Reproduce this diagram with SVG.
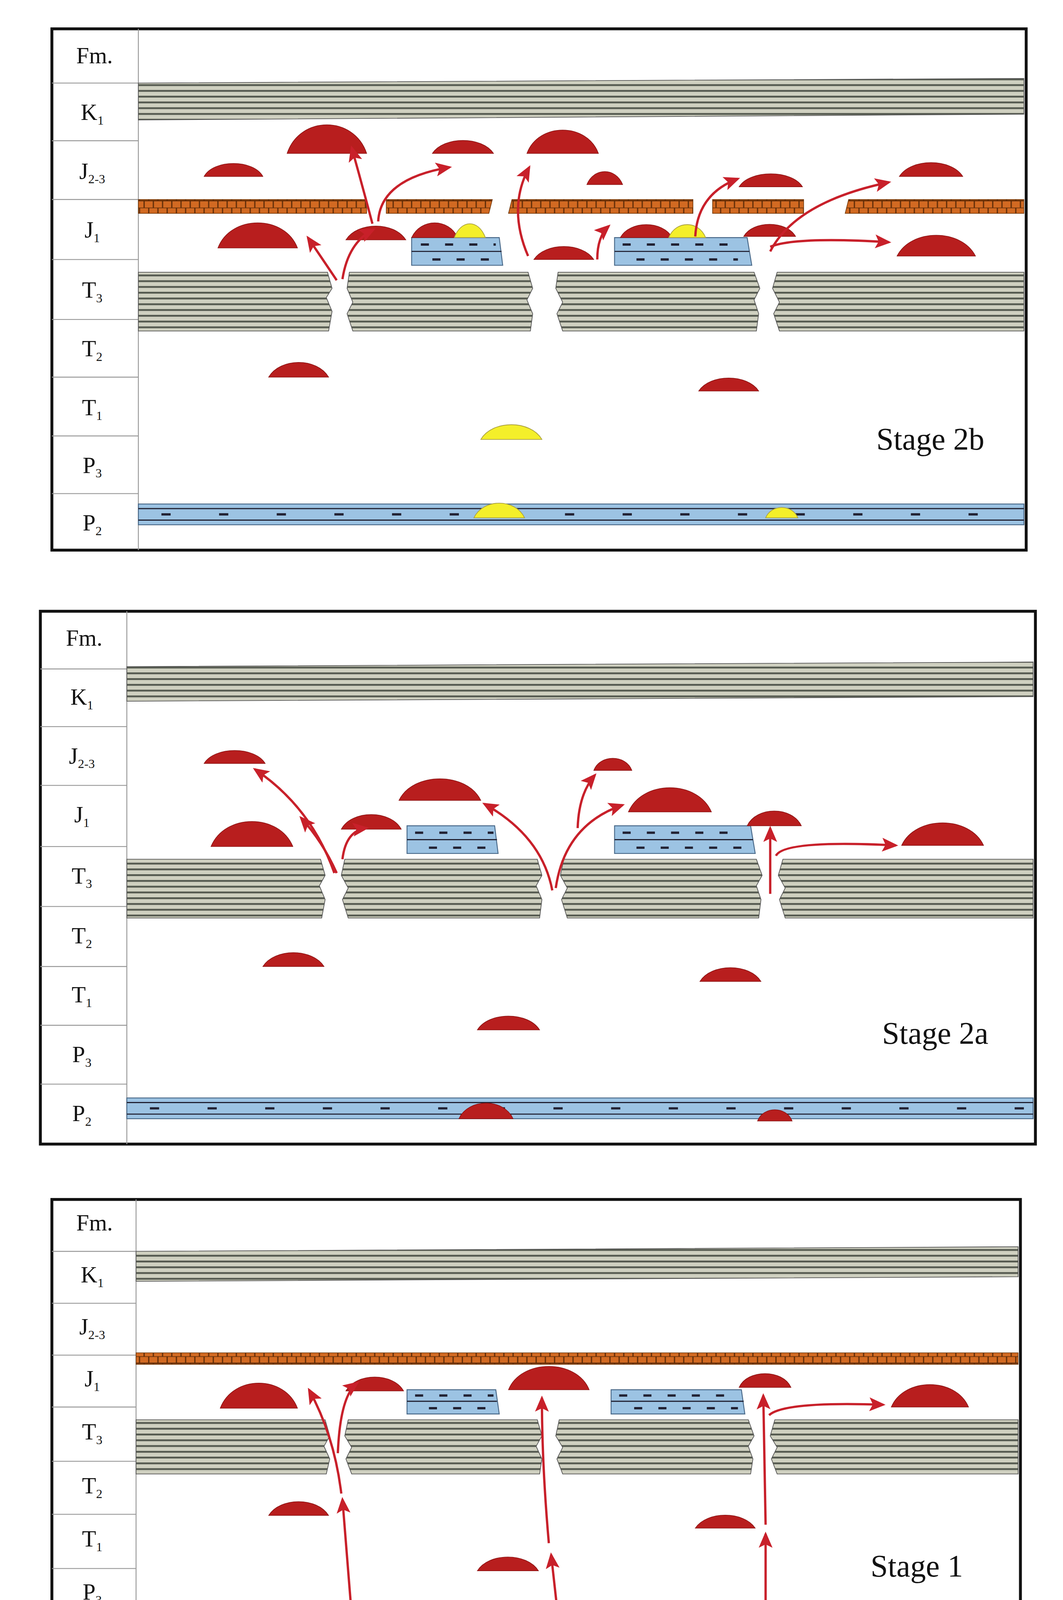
<svg xmlns="http://www.w3.org/2000/svg" width="2722" height="4631" viewBox="0 0 2722 4631">
<style>
.box{fill:#fff;stroke:#111;stroke-width:2.5}
.grid{stroke:#999;stroke-width:0.8;fill:none}
.lbl{font-family:"Liberation Serif",serif;font-size:20px;fill:#111;text-anchor:middle}
.sub{font-size:11px}
.stage{font-family:"Liberation Serif",serif;font-size:27px;fill:#111}
.leg{font-family:"Liberation Serif",serif;font-size:17px;fill:#111}
.seal{fill:url(#sealP);stroke:#555;stroke-width:0.6}
.tos{fill:url(#tosP);stroke:#6a3000;stroke-width:0.5}
.src{fill:#9cc3e3;stroke:#4a6a8a;stroke-width:0.8}
.srcline{stroke:#223;stroke-width:1}
.dash{stroke:#223;stroke-width:2;stroke-dasharray:8 42}
.dash2{stroke:#223;stroke-width:2;stroke-dasharray:7 14}
.oil{fill:#b81e1e;stroke:#8a1010;stroke-width:0.5}
.gas{fill:#f4ef2a;stroke:#aaa040;stroke-width:0.6}
.mig{fill:none;stroke:#c8202a;stroke-width:2;marker-end:url(#ah)}
</style>
<defs>
<pattern id="sealP" patternUnits="userSpaceOnUse" width="20" height="5">
<rect width="20" height="5" fill="#cfd0c0"/><rect y="3" width="20" height="1.6" fill="#555a50"/>
</pattern>
<pattern id="tosP" patternUnits="userSpaceOnUse" width="8" height="12">
<rect width="8" height="12" fill="#d26a22"/>
<path d="M0,0H8M0,6H8M1,0V6M5,6V12" stroke="#5a2a08" stroke-width="1"/>
</pattern>
<marker id="ah" markerUnits="userSpaceOnUse" markerWidth="14" markerHeight="12" refX="12" refY="6" orient="auto">
<path d="M0,0 L14,6 L0,12 L3,6 Z" fill="#c8202a"/>
</marker>
</defs>
<g transform="scale(2.9525)">

<!-- PANEL 1: Stage 2b -->
<g id="panel-stage2b">
<rect class="box" x="45" y="25" width="845" height="452"/>
<path class="grid" d="M120,25V477M45,72H120M45,122H120M45,173H120M45,225H120M45,277H120M45,327H120M45,378H120M45,428H120"/>
<text class="lbl" x="82" y="55">Fm.</text>
<text class="lbl" x="80" y="104">K<tspan class="sub" dy="4">1</tspan></text>
<text class="lbl" x="80" y="155">J<tspan class="sub" dy="4">2-3</tspan></text>
<text class="lbl" x="80" y="206">J<tspan class="sub" dy="4">1</tspan></text>
<text class="lbl" x="80" y="258">T<tspan class="sub" dy="4">3</tspan></text>
<text class="lbl" x="80" y="309">T<tspan class="sub" dy="4">2</tspan></text>
<text class="lbl" x="80" y="360">T<tspan class="sub" dy="4">1</tspan></text>
<text class="lbl" x="80" y="410">P<tspan class="sub" dy="4">3</tspan></text>
<text class="lbl" x="80" y="460">P<tspan class="sub" dy="4">2</tspan></text>
<path class="seal" d="M120,72 L888,68 L888,99 L120,104 Z"/>
<path class="tos" d="M120,173H318V185H120Z M335,173H427L424,185H335Z M444,173H601V185H441Z M618,173H697V185H618Z M736,173H888V185H733Z"/>
<path class="seal" d="M120,236 L284,236 L288,250 L283,258 L288,270 L285,287 L120,287 Z"/>
<path class="seal" d="M303,236 L458,236 L462,250 L457,260 L462,272 L460,287 L306,287 L301,272 L306,262 L301,250 Z"/>
<path class="seal" d="M484,236 L654,236 L659,250 L654,260 L658,272 L656,287 L488,287 L483,272 L488,262 L482,250 Z"/>
<path class="seal" d="M674,236 L888,236 L888,287 L676,287 L671,272 L676,262 L670,250 Z"/>
<path class="src" d="M357,206H433L436,230H357Z"/><path class="srcline" d="M357,218H435"/>
<path class="dash2" d="M365,212H430M375,225H430"/>
<path class="src" d="M533,206H648L652,230H533Z"/><path class="srcline" d="M533,218H650"/>
<path class="dash2" d="M540,212H640M552,225H640"/>
<rect class="src" x="120" y="437" width="768" height="18"/><path class="srcline" d="M120,441H888M120,451H888"/>
<path class="dash" d="M140,446H888"/>
<path class="oil" d="M177,153C185,138 220,138 228,153Z"/>
<path class="oil" d="M249,133C260,100 307,100 318,133Z"/>
<path class="oil" d="M375,133C385,118 418,118 428,133Z"/>
<path class="oil" d="M457,133C467,106 509,106 519,133Z"/>
<path class="oil" d="M509,160C515,145 534,145 540,160Z"/>
<path class="oil" d="M641,162C650,147 687,147 696,162Z"/>
<path class="oil" d="M780,153C790,137 825,137 835,153Z"/>
<path class="oil" d="M189,215C200,186 247,186 258,215Z"/>
<path class="oil" d="M300,208C310,192 342,192 352,208Z"/>
<path class="oil" d="M357,206C365,189 389,189 397,206Z"/>
<path class="gas" d="M394,206C400,190 415,190 421,206Z"/>
<path class="oil" d="M463,225C473,210 505,210 515,225Z"/>
<path class="oil" d="M538,206C546,191 575,191 583,206Z"/>
<path class="gas" d="M580,206C586,191 606,191 612,206Z"/>
<path class="oil" d="M645,205C653,191 682,191 690,205Z"/>
<path class="oil" d="M778,222C790,198 834,198 846,222Z"/>
<path class="oil" d="M233,327C243,310 275,310 285,327Z"/>
<path class="oil" d="M606,339C616,324 648,324 658,339Z"/>
<path class="gas" d="M417,381C427,364 460,364 470,381Z"/>
<path class="gas" d="M411,449C419,432 447,432 455,449Z"/>
<path class="gas" d="M664,449C669,437 687,437 692,449Z"/>
<text class="stage" x="760" y="390">Stage 2b</text>
</g>
<g id="arrows-stage2b">
<path class="mig" d="M292,243 Q280,225 267,206"/>
<path class="mig" d="M297,242 Q302,210 324,199"/>
<path class="mig" d="M323,194 Q314,160 305,128"/>
<path class="mig" d="M328,192 Q330,155 390,145"/>
<path class="mig" d="M458,222 Q440,180 459,145"/>
<path class="mig" d="M518,225 Q518,205 528,196"/>
<path class="mig" d="M603,205 Q605,168 640,155"/>
<path class="mig" d="M668,218 Q690,175 771,158"/>
<path class="mig" d="M668,214 Q690,205 771,210"/>
</g>

<!-- PANEL 2: Stage 2a -->
<g id="panel-stage2a">
<rect class="box" x="35" y="530" width="863" height="462"/>
<path class="grid" d="M110,530V992M35,580H110M35,630H110M35,681H110M35,734H110M35,786H110M35,838H110M35,889H110M35,940H110"/>
<text class="lbl" x="73" y="560">Fm.</text>
<text class="lbl" x="71" y="611">K<tspan class="sub" dy="4">1</tspan></text>
<text class="lbl" x="71" y="662">J<tspan class="sub" dy="4">2-3</tspan></text>
<text class="lbl" x="71" y="713">J<tspan class="sub" dy="4">1</tspan></text>
<text class="lbl" x="71" y="766">T<tspan class="sub" dy="4">3</tspan></text>
<text class="lbl" x="71" y="818">T<tspan class="sub" dy="4">2</tspan></text>
<text class="lbl" x="71" y="869">T<tspan class="sub" dy="4">1</tspan></text>
<text class="lbl" x="71" y="921">P<tspan class="sub" dy="4">3</tspan></text>
<text class="lbl" x="71" y="972">P<tspan class="sub" dy="4">2</tspan></text>
<path class="seal" d="M110,578 L896,574 L896,604 L110,608 Z"/>
<path class="seal" d="M110,745 L278,745 L282,759 L277,768 L282,780 L279,796 L110,796 Z"/>
<path class="seal" d="M299,745 L466,745 L470,759 L465,768 L470,780 L468,796 L302,796 L297,780 L302,770 L296,759 Z"/>
<path class="seal" d="M489,745 L656,745 L661,759 L656,768 L660,780 L658,796 L492,796 L487,780 L492,770 L486,759 Z"/>
<path class="seal" d="M679,745 L896,745 L896,796 L681,796 L676,780 L681,770 L675,759 Z"/>
<path class="src" d="M353,716H429L432,740H353Z"/><path class="srcline" d="M353,728H431"/>
<path class="dash2" d="M360,722H428M372,735H428"/>
<path class="src" d="M533,716H651L655,740H533Z"/><path class="srcline" d="M533,728H653"/>
<path class="dash2" d="M540,722H645M552,735H645"/>
<rect class="src" x="110" y="952" width="786" height="18"/><path class="srcline" d="M110,956H896M110,966H896"/>
<path class="dash" d="M130,961H896"/>
<path class="oil" d="M177,662C186,647 221,647 230,662Z"/>
<path class="oil" d="M515,668C520,654 543,654 548,668Z"/>
<path class="oil" d="M346,694C358,669 405,669 417,694Z"/>
<path class="oil" d="M545,704C557,676 605,676 617,704Z"/>
<path class="oil" d="M183,734C195,705 242,705 254,734Z"/>
<path class="oil" d="M296,719C305,702 339,702 348,719Z"/>
<path class="oil" d="M648,716C656,699 687,699 695,716Z"/>
<path class="oil" d="M782,733C794,707 841,707 853,733Z"/>
<path class="oil" d="M228,838C238,822 271,822 281,838Z"/>
<path class="oil" d="M607,851C617,835 650,835 660,851Z"/>
<path class="oil" d="M414,893C424,877 458,877 468,893Z"/>
<path class="oil" d="M398,970C406,952 437,952 445,970Z"/>
<path class="oil" d="M657,972C662,959 682,959 687,972Z"/>
<text class="stage" x="765" y="905">Stage 2a</text>
</g>
<g id="arrows-stage2a">
<path class="mig" d="M292,757 Q280,730 261,709"/>
<path class="mig" d="M290,757 Q270,700 221,667"/>
<path class="mig" d="M297,745 Q300,720 318,718"/>
<path class="mig" d="M479,772 Q470,725 420,697"/>
<path class="mig" d="M482,770 Q490,715 540,698"/>
<path class="mig" d="M501,718 Q502,688 516,672"/>
<path class="mig" d="M668,775 L668,718"/>
<path class="mig" d="M673,742 Q680,728 777,733"/>
</g>

<!-- PANEL 3: Stage 1 -->
<g id="panel-stage1">
<rect class="box" x="45" y="1040" width="840" height="410"/>
<path class="grid" d="M118,1040V1450M45,1085H118M45,1130H118M45,1175H118M45,1220H118M45,1267H118M45,1313H118M45,1360H118M45,1405H118"/>
<text class="lbl" x="82" y="1067">Fm.</text>
<text class="lbl" x="80" y="1112">K<tspan class="sub" dy="4">1</tspan></text>
<text class="lbl" x="80" y="1157">J<tspan class="sub" dy="4">2-3</tspan></text>
<text class="lbl" x="80" y="1202">J<tspan class="sub" dy="4">1</tspan></text>
<text class="lbl" x="80" y="1248">T<tspan class="sub" dy="4">3</tspan></text>
<text class="lbl" x="80" y="1295">T<tspan class="sub" dy="4">2</tspan></text>
<text class="lbl" x="80" y="1341">T<tspan class="sub" dy="4">1</tspan></text>
<text class="lbl" x="80" y="1387">P<tspan class="sub" dy="4">3</tspan></text>
<text class="lbl" x="80" y="1432">P<tspan class="sub" dy="4">2</tspan></text>
<path class="seal" d="M118,1085 L883,1081 L883,1107 L118,1111 Z"/>
<path class="tos" d="M118,1173H883V1183H118Z"/>
<path class="seal" d="M118,1231 L282,1231 L286,1245 L281,1254 L286,1265 L283,1278 L118,1278 Z"/>
<path class="seal" d="M302,1231 L466,1231 L470,1245 L465,1254 L470,1265 L468,1278 L305,1278 L300,1265 L305,1255 L299,1245 Z"/>
<path class="seal" d="M485,1231 L649,1231 L654,1245 L649,1254 L653,1265 L651,1278 L488,1278 L483,1265 L488,1255 L482,1245 Z"/>
<path class="seal" d="M672,1231 L883,1231 L883,1278 L674,1278 L669,1265 L674,1255 L668,1245 Z"/>
<path class="src" d="M353,1205H430L433,1226H353Z"/><path class="srcline" d="M353,1215H431"/>
<path class="dash2" d="M360,1210H428M372,1221H428"/>
<path class="src" d="M530,1205H643L646,1226H530Z"/><path class="srcline" d="M530,1215H645"/>
<path class="dash2" d="M537,1210H640M550,1221H640"/>
<rect class="src" x="118" y="1415" width="765" height="17"/><path class="srcline" d="M118,1419H883M118,1428H883"/>
<path class="dash" d="M135,1423.5H883"/>
<path class="oil" d="M191,1221C202,1192 247,1192 258,1221Z"/>
<path class="oil" d="M300,1206C309,1190 341,1190 350,1206Z"/>
<path class="oil" d="M441,1205C452,1178 500,1178 511,1205Z"/>
<path class="oil" d="M641,1203C648,1187 679,1187 686,1203Z"/>
<path class="oil" d="M773,1220C784,1194 829,1194 840,1220Z"/>
<path class="oil" d="M233,1314C243,1298 275,1298 285,1314Z"/>
<path class="oil" d="M603,1325C613,1310 645,1310 655,1325Z"/>
<path class="oil" d="M414,1362C424,1346 457,1346 467,1362Z"/>
<path class="oil" d="M398,1432C410,1408 455,1408 467,1432Z"/>
<path class="oil" d="M633,1432C645,1408 688,1408 700,1432Z"/>
<text class="stage" x="755" y="1367">Stage 1</text>
</g>
<g id="arrows-stage1">
<path class="mig" d="M305,1400 L297,1300"/>
<path class="mig" d="M296,1295 Q290,1245 268,1205"/>
<path class="mig" d="M293,1260 Q295,1210 310,1199"/>
<path class="mig" d="M484,1402 L478,1348"/>
<path class="mig" d="M476,1338 Q470,1270 470,1212"/>
<path class="mig" d="M664,1402 L664,1330"/>
<path class="mig" d="M664,1322 L662,1210"/>
<path class="mig" d="M667,1227 Q680,1215 766,1218"/>
</g>

<!-- LEGEND -->
<g id="legend">
<rect class="src" x="70" y="1485" width="74" height="33"/><path class="srcline" d="M70,1496H144M70,1507H144"/>
<path class="dash2" d="M85,1490H140M78,1501H140M85,1512H140"/>
<rect class="seal" x="191" y="1485" width="72" height="33"/>
<rect class="tos" x="305" y="1485" width="74" height="33"/>
<rect x="423" y="1485" width="83" height="32" fill="#fff" stroke="#bbb"/>
<path class="oil" d="M430,1515C440,1478 490,1478 500,1515Z"/>
<rect x="548" y="1485" width="84" height="32" fill="#fff" stroke="#bbb"/>
<path class="gas" d="M555,1515C566,1478 615,1478 626,1515Z"/>
<rect x="715" y="1485" width="84" height="32" fill="#fff" stroke="#bbb"/>
<path class="mig" d="M722,1510 L784,1490"/>
<text class="leg" x="48" y="1541">Source rocks</text>
<text class="leg" x="210" y="1541">Seal</text>
<text class="leg" x="305" y="1541">TOS Seal</text>
<text class="leg" x="400" y="1541">Oil reservoir</text>
<text class="leg" x="500" y="1541">Gas  reservoir</text>
<text class="leg" x="640" y="1541">HC  migration  direction</text>
</g>
</g>
</svg>
